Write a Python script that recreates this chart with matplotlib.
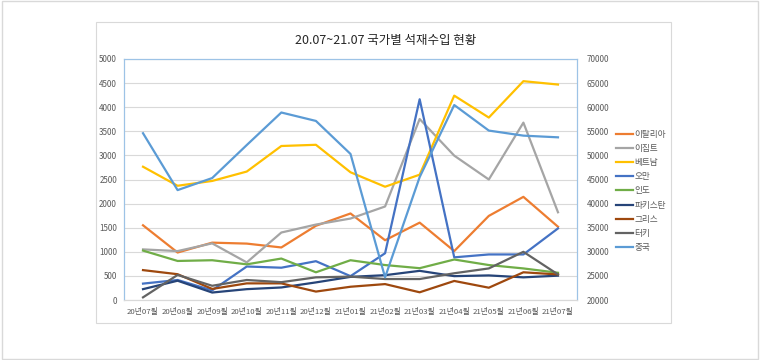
import matplotlib.pyplot as plt
from matplotlib.patches import Rectangle

plt.rcParams['font.family'] = ['Noto Sans CJK KR', 'DejaVu Sans']

months = ['20년07월', '20년08월', '20년09월', '20년10월', '20년11월', '20년12월', '21년01월',
          '21년02월', '21년03월', '21년04월', '21년05월', '21년06월', '21년07월']

italy = [1550, 985, 1190, 1170, 1090, 1540, 1795, 1240, 1605, 1015, 1745, 2140, 1520]
egypt = [1050, 1015, 1175, 780, 1400, 1565, 1690, 1940, 3755, 2995, 2500, 3680, 1820]
vietnam = [2765, 2370, 2470, 2665, 3195, 3220, 2650, 2350, 2600, 4240, 3785, 4540, 4470]
oman = [340, 415, 200, 695, 670, 805, 495, 970, 4165, 885, 945, 945, 1485]
india = [1025, 810, 825, 740, 860, 575, 825, 725, 660, 840, 725, 655, 565]
pakistan = [225, 400, 155, 225, 260, 365, 480, 515, 605, 495, 510, 470, 505]
greece = [620, 535, 230, 345, 345, 175, 275, 330, 160, 395, 255, 575, 530]
turkey = [55, 520, 295, 415, 370, 470, 485, 435, 435, 555, 655, 1000, 530]
china = [54600, 42800, 45300, 52150, 58900, 57150, 50300, 24700, 45500, 60450, 55150, 54100, 53750]

left_series = [
    ('이탈리아', italy, '#ED7D31'),
    ('이집트', egypt, '#A5A5A5'),
    ('베트남', vietnam, '#FFC000'),
    ('오만', oman, '#4472C4'),
    ('인도', india, '#70AD47'),
    ('파키스탄', pakistan, '#264478'),
    ('그리스', greece, '#9E480E'),
    ('터키', turkey, '#636363'),
]

fig = plt.figure(figsize=(7.6, 3.6), dpi=100)
fig.patches.append(Rectangle((0.002, 0.003), 0.995, 0.993, transform=fig.transFigure,
                             fill=False, edgecolor='#d9d9d9', linewidth=1))
fig.patches.append(Rectangle((96 / 760, 1 - 323 / 360), 575 / 760, 301 / 360,
                             transform=fig.transFigure, fill=False,
                             edgecolor='#d9d9d9', linewidth=0.8))

ax = fig.add_axes([124 / 760, 60 / 360, 453 / 760, 241 / 360])
ax2 = ax.twinx()

x = list(range(len(months)))
handles = []
for name, vals, col in left_series:
    h, = ax.plot(x, vals, color=col, linewidth=1.6, label=name)
    handles.append(h)
h, = ax2.plot(x, china, color='#5B9BD5', linewidth=1.6, label='중국')
handles.append(h)

ax.set_xlim(-0.55, 12.55)
ax.set_ylim(0, 5000)
ax.set_yticks(range(0, 5001, 500))
ax2.set_ylim(20000, 70000)
ax2.set_yticks(range(20000, 70001, 5000))
ax.set_xticks(x)
ax.set_xticklabels(months)
ax.grid(axis='y', color='#d9d9d9', linewidth=0.8)
ax.set_axisbelow(True)

for a in (ax, ax2):
    a.tick_params(length=0, labelsize=5.8, colors='#595959')
    for s in ('left', 'top', 'right'):
        a.spines[s].set_color('#9dc3e6')
    a.spines['bottom'].set_color('#d9d9d9')
ax.tick_params(axis='x', pad=6, labelsize=5.6)
ax.tick_params(axis='y', pad=5)
ax2.tick_params(axis='y', pad=7)

fig.text(0.507, 0.888, '20.07~21.07 국가별 석재수입 현황', ha='center', va='center',
         fontsize=9, color='#262626')

fig.legend(handles=handles, loc='upper left', bbox_to_anchor=(608 / 760, 1 - 122 / 360),
           frameon=False, fontsize=6.2, handlelength=2.0, handletextpad=0.2,
           labelspacing=0.6, labelcolor='#595959')

plt.savefig('out.png', dpi=100)
